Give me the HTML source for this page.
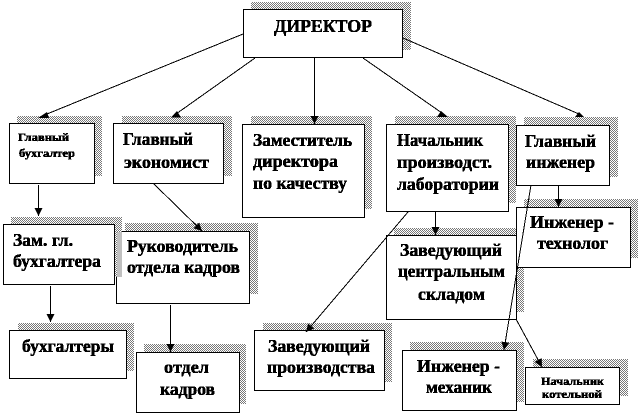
<!DOCTYPE html>
<html>
<head>
<meta charset="utf-8">
<style>
html,body{margin:0;padding:0;background:#fff;width:640px;height:415px;overflow:hidden}
svg{display:block}
.b{fill:#fff;stroke:#000;stroke-width:1.3;shape-rendering:crispEdges}
.s{fill:url(#chk);shape-rendering:crispEdges}
.l{stroke:#000;stroke-width:1;fill:none;shape-rendering:crispEdges}
.m{marker-end:url(#a)}
text{font-family:"Liberation Serif","Noto Serif CJK SC",serif;font-weight:bold;font-size:18px;fill:#000;stroke:#000;stroke-width:.55}
.sm{font-size:11.5px;stroke-width:.55}
</style>
</head>
<body>
<svg width="640" height="415" viewBox="0 0 640 415" xmlns="http://www.w3.org/2000/svg">
<defs>
<pattern id="chk" width="2" height="2" patternUnits="userSpaceOnUse">
<rect width="2" height="2" fill="#fff"/>
<rect width="1" height="1" fill="#777"/>
<rect x="1" y="1" width="1" height="1" fill="#777"/>
</pattern>
<marker id="a" markerUnits="userSpaceOnUse" markerWidth="10" markerHeight="10" refX="8" refY="4.5" orient="auto">
<path d="M0 0.5L8 4.5L0 8.5z" fill="#000"/>
</marker>
<filter id="t" x="0" y="0" width="640" height="415" filterUnits="userSpaceOnUse" color-interpolation-filters="sRGB">
<feComponentTransfer>
<feFuncA type="discrete" tableValues="0 0 1 1"/>
</feComponentTransfer>
</filter>
</defs>

<rect class="s" x="251" y="2" width="160" height="48"/>
<rect class="b" x="243.5" y="9.5" width="159" height="48"/>

<rect class="s" x="17" y="116" width="85" height="60"/>
<rect class="b" x="9.5" y="123.5" width="85" height="60"/>

<rect class="s" x="122" y="116" width="110" height="60"/>
<rect class="b" x="113.5" y="123.5" width="110" height="60"/>

<rect class="s" x="251" y="116" width="121" height="93"/>
<rect class="b" x="242.5" y="124.5" width="122" height="93"/>

<rect class="s" x="395" y="116" width="121" height="87"/>
<rect class="b" x="386.5" y="124.5" width="122" height="87"/>

<rect class="s" x="524" y="117" width="94" height="60"/>
<rect class="b" x="516.5" y="125.5" width="93" height="60"/>

<rect class="s" x="394" y="228" width="130" height="84"/>
<rect class="b" x="386.5" y="235.5" width="130" height="84"/>

<rect class="s" x="524" y="199" width="114" height="59"/>
<rect class="b" x="516.5" y="207.5" width="114" height="60"/>

<rect class="s" x="125" y="223" width="133" height="71"/>
<rect class="b" x="116.5" y="231.5" width="133" height="72"/>

<rect class="s" x="11" y="217" width="111" height="60"/>
<rect class="b" x="3.5" y="224.5" width="111" height="60"/>
<rect x="117" y="232" width="5" height="45" fill="#c0c0c0"/>

<rect class="s" x="18" y="323" width="116" height="48"/>
<rect class="b" x="9.5" y="330.5" width="117" height="48"/>

<rect class="s" x="144" y="344" width="102" height="60"/>
<rect class="b" x="136.5" y="352.5" width="103" height="60"/>

<rect class="s" x="263" y="323" width="129" height="59"/>
<rect class="b" x="254.5" y="330.5" width="130" height="60"/>

<rect class="s" x="410" y="342" width="114" height="60"/>
<rect class="b" x="402.5" y="350.5" width="114" height="60"/>

<rect class="s" x="533" y="359" width="95" height="37"/>
<rect class="b" x="525.5" y="367.5" width="94" height="37"/>

<line class="l" x1="243" y1="34" x2="47" y2="114"/>
<polygon points="38,118 47,112 49,118" fill="#000"/>
<line class="l" x1="255" y1="58" x2="176" y2="114"/>
<polygon points="171,117.5 177,111 181,117.5" fill="#000"/>
<line class="l m" x1="314.5" y1="57" x2="314.5" y2="124"/>
<line class="l" x1="363" y1="58" x2="442" y2="113"/>
<polygon points="437,117 441,111 448,117" fill="#000"/>
<line class="l" x1="403" y1="38" x2="579" y2="114"/>
<polygon points="575,117 579,112 584,117" fill="#000"/>
<line class="l m" x1="38.5" y1="185" x2="38.5" y2="216"/>
<line class="l m" x1="154" y1="184" x2="202" y2="231"/>
<line class="l m" x1="50.5" y1="286" x2="50.5" y2="322"/>
<line class="l m" x1="170.5" y1="305" x2="170.5" y2="352"/>
<line class="l m" x1="408" y1="212" x2="306" y2="332"/>
<line class="l m" x1="435.5" y1="211" x2="435.5" y2="235"/>
<line class="l m" x1="558.5" y1="185" x2="558.5" y2="207"/>
<line class="l m" x1="531" y1="185" x2="504" y2="350"/>
<line class="l m" x1="516" y1="319" x2="542" y2="367"/>

<g filter="url(#t)">
<text x="274" y="32" textLength="98" lengthAdjust="spacingAndGlyphs">ДИРЕКТОР</text>

<text class="sm" x="18" y="141" textLength="51" lengthAdjust="spacingAndGlyphs">Главный</text>
<text class="sm" x="19" y="157" textLength="56" lengthAdjust="spacingAndGlyphs">бухгалтер</text>

<text x="123" y="145" textLength="70" lengthAdjust="spacingAndGlyphs">Главный</text>
<text x="124" y="168" textLength="85" lengthAdjust="spacingAndGlyphs">экономист</text>

<text x="253" y="146" textLength="99" lengthAdjust="spacingAndGlyphs">Заместитель</text>
<text x="253" y="167" textLength="85" lengthAdjust="spacingAndGlyphs">директора</text>
<text x="253" y="189" textLength="94" lengthAdjust="spacingAndGlyphs">по качеству</text>

<text x="397" y="146" textLength="86" lengthAdjust="spacingAndGlyphs">Начальник</text>
<text x="397" y="168" textLength="95" lengthAdjust="spacingAndGlyphs">производст.</text>
<text x="397" y="190" textLength="102" lengthAdjust="spacingAndGlyphs">лаборатории</text>

<text x="525" y="147" textLength="71" lengthAdjust="spacingAndGlyphs">Главный</text>
<text x="526" y="168" textLength="69" lengthAdjust="spacingAndGlyphs">инженер</text>

<text x="530" y="228" textLength="84" lengthAdjust="spacingAndGlyphs">Инженер -</text>
<text x="537" y="249" textLength="71" lengthAdjust="spacingAndGlyphs">технолог</text>

<text x="13" y="246" textLength="60" lengthAdjust="spacingAndGlyphs">Зам. гл.</text>
<text x="13" y="267" textLength="88" lengthAdjust="spacingAndGlyphs">бухгалтера</text>

<text x="127" y="252" textLength="111" lengthAdjust="spacingAndGlyphs">Руководитель</text>
<text x="127" y="273" textLength="113" lengthAdjust="spacingAndGlyphs">отдела кадров</text>

<text x="22" y="352" textLength="92" lengthAdjust="spacingAndGlyphs">бухгалтеры</text>

<text x="164" y="373" textLength="45" lengthAdjust="spacingAndGlyphs">отдел</text>
<text x="160" y="395" textLength="55" lengthAdjust="spacingAndGlyphs">кадров</text>

<text x="268" y="352" textLength="102" lengthAdjust="spacingAndGlyphs">Заведующий</text>
<text x="267" y="373" textLength="108" lengthAdjust="spacingAndGlyphs">производства</text>

<text x="400" y="256" textLength="102" lengthAdjust="spacingAndGlyphs">Заведующий</text>
<text x="398" y="277" textLength="107" lengthAdjust="spacingAndGlyphs">центральным</text>
<text x="418" y="300" textLength="67" lengthAdjust="spacingAndGlyphs">складом</text>

<text x="417" y="372" textLength="83" lengthAdjust="spacingAndGlyphs">Инженер -</text>
<text x="426" y="393" textLength="66" lengthAdjust="spacingAndGlyphs">механик</text>

<text class="sm" x="541" y="385" textLength="63" lengthAdjust="spacingAndGlyphs">Начальник</text>
<text class="sm" x="542" y="398" textLength="60" lengthAdjust="spacingAndGlyphs">котельной</text>
</g>
</svg>
</body>
</html>
